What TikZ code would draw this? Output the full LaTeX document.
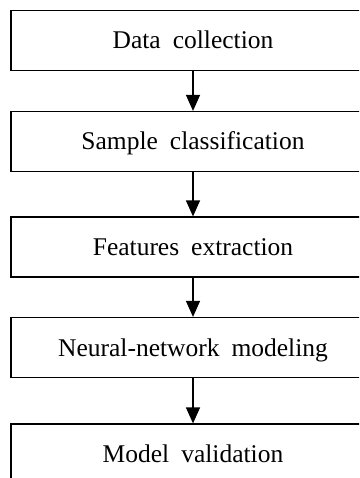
\documentclass[tikz,border=0pt]{standalone}
\usepackage{fontspec}
\setmainfont{Liberation Serif}
\usetikzlibrary{arrows.meta}

\tikzset{
  stepbox/.style={draw=black, line width=1.2pt, rectangle,
    minimum width=364pt, minimum height=60pt, inner sep=0pt,
    text height=17pt, text depth=0pt,
    font=\fontsize{25.5}{30}\selectfont,
    execute at begin node={\spaceskip=0.47em plus 0pt minus 0pt\relax}},
  flow/.style={line width=1.3pt, -{Triangle[width=14pt,length=16pt]}}
}

\begin{document}
\begin{tikzpicture}[x=1pt, y=-1pt]
  \useasboundingbox (0,0) rectangle (359,478);
  \clip (0,0) rectangle (359,478);

  % process steps, top to bottom
  \node[stepbox] (collect)  at (193,40.5)  {Data collection};
  \node[stepbox] (classify) at (193,141.5) {Sample classification};
  \node[stepbox] (extract)  at (193,247)   {Features extraction};
  \node[stepbox] (model)    at (193,347.5) {Neural-network modeling};
  \node[stepbox] (validate) at (193,454)   {Model validation};

  % connectors between consecutive steps
  \draw[flow] (collect.south)  -- (classify.north);
  \draw[flow] (classify.south) -- (extract.north);
  \draw[flow] (extract.south)  -- (model.north);
  \draw[flow] (model.south)    -- (validate.north);
\end{tikzpicture}
\end{document}
